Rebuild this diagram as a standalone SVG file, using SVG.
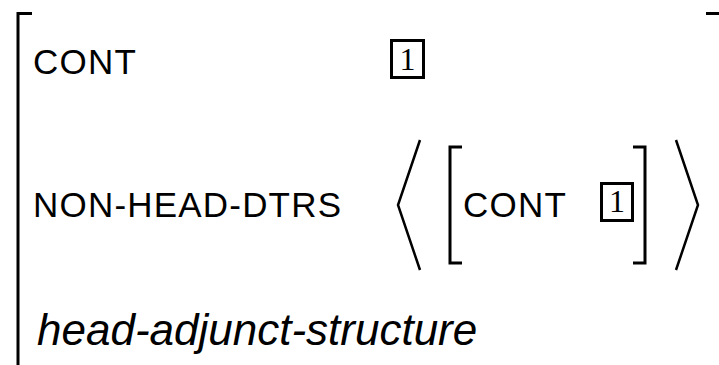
<svg xmlns="http://www.w3.org/2000/svg" width="719" height="365" viewBox="0 0 719 365">
  <style>
    .attr { font-family: "Liberation Sans", Arial, sans-serif; font-size: 35px; fill: #000; letter-spacing: 1.2px; }
    .type { font-family: "Liberation Sans", Arial, sans-serif; font-size: 44px; font-style: italic; fill: #000; }
    .tag { font-family: "Liberation Serif", "Times New Roman", serif; font-size: 32px; fill: #000; text-anchor: middle; }
    .brk { fill: none; stroke: #000; stroke-width: 3; stroke-linecap: butt; stroke-linejoin: miter; }
    .ang { fill: none; stroke: #000; stroke-width: 2.5; stroke-linejoin: miter; }
    .box { fill: none; stroke: #000; stroke-width: 3; }
  </style>
  <rect width="719" height="365" fill="#fff"/>

  <!-- outer AVM brackets -->
  <g id="outer-avm">
    <polyline class="brk" points="32,13.5 18,13.5 18,365"/>
    <line class="brk" x1="706" y1="13.5" x2="719" y2="13.5"/>
  </g>

  <!-- CONT feature with tag 1 -->
  <g id="cont-row">
    <text class="attr" x="33" y="74">CONT</text>
    <rect class="box" x="391.5" y="40.5" width="32" height="37"/>
    <text class="tag" x="407.5" y="70">1</text>
  </g>

  <!-- NON-HEAD-DTRS feature with a one-element list -->
  <g id="dtrs-row">
    <text class="attr" x="33" y="217" letter-spacing="2.5">NON-HEAD-DTRS</text>
    <polyline class="ang" points="420,140 398,205 420,270"/>
    <polyline class="ang" points="676,140 698,205 676,270"/>
  </g>

  <!-- inner AVM: [CONT 1] -->
  <g id="inner-avm">
    <polyline class="brk" points="462,147 450,147 450,263 462,263"/>
    <polyline class="brk" points="633,147 645,147 645,263 633,263"/>
    <text class="attr" x="463" y="217">CONT</text>
    <rect class="box" x="601.5" y="183.5" width="31" height="37"/>
    <text class="tag" x="617" y="212">1</text>
  </g>

  <!-- type label -->
  <g id="type-label">
    <text class="type" x="37" y="345">head-adjunct-structure</text>
  </g>
</svg>
